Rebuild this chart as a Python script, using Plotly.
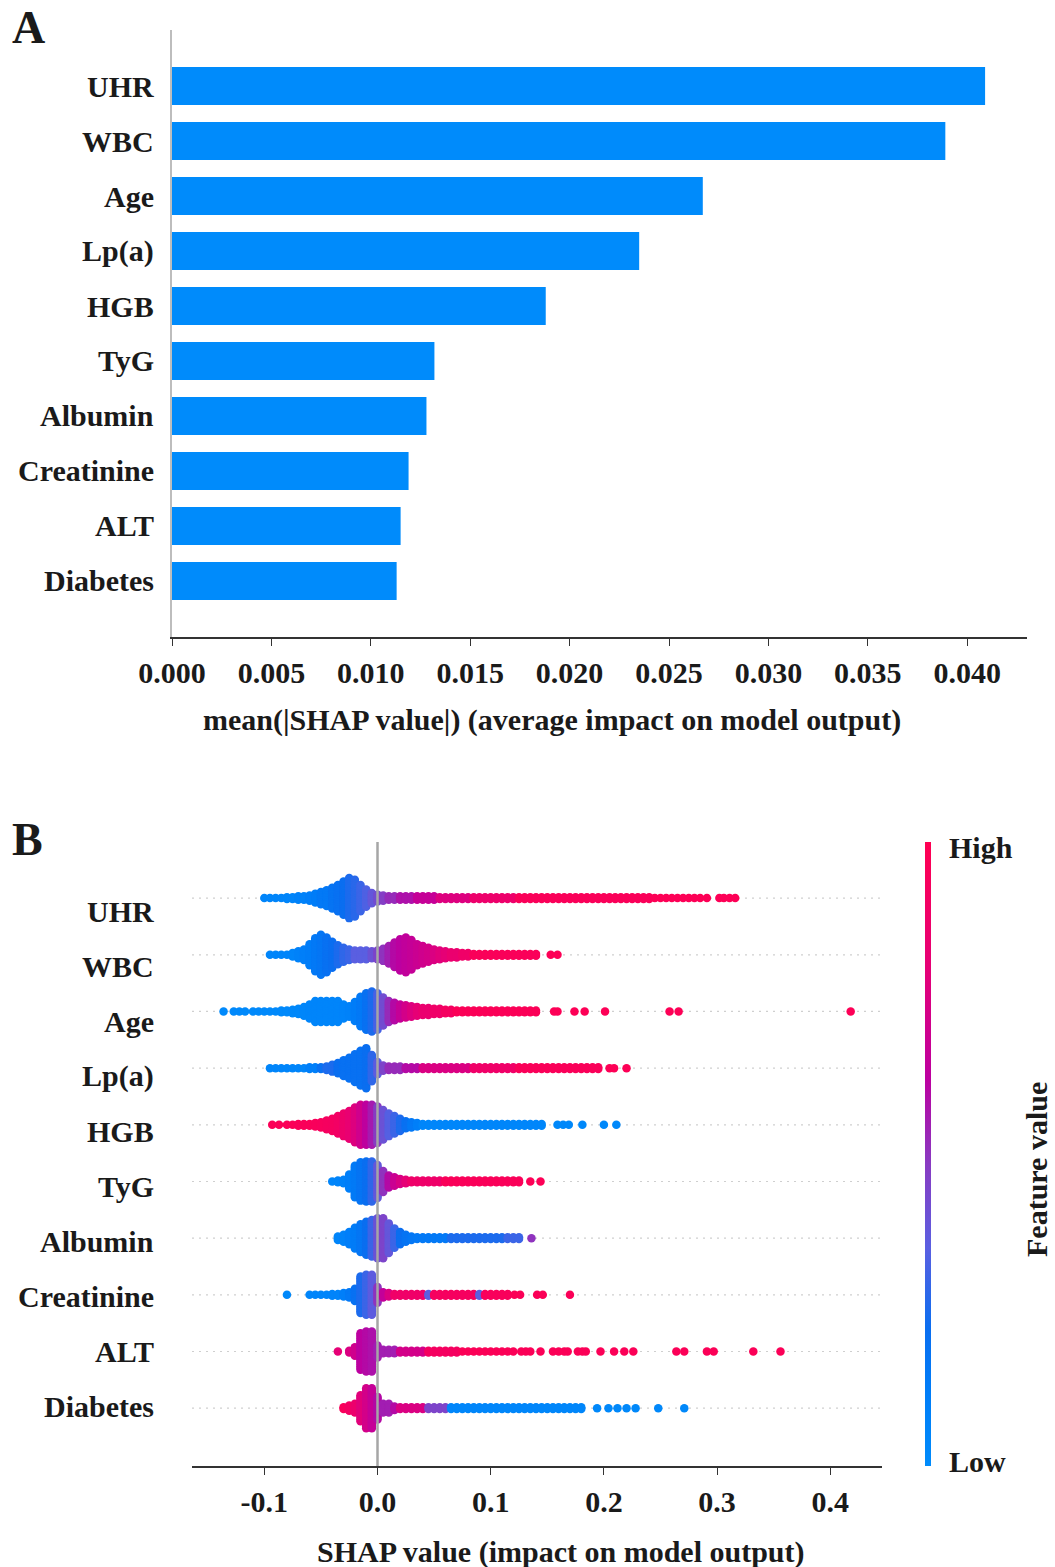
import plotly.graph_objects as go

W, H = 1055, 1567

# ---------------------------------------------------------------- data
FEATURES = ["UHR", "WBC", "Age", "Lp(a)", "HGB", "TyG",
            "Albumin", "Creatinine", "ALT", "Diabetes"]

# panel A: mean(|SHAP value|) per feature
MEAN_ABS_SHAP = [0.0409, 0.0389, 0.0267, 0.0235, 0.0188,
                 0.0132, 0.0128, 0.0119, 0.0115, 0.0113]

A_TICKS = [0.000, 0.005, 0.010, 0.015, 0.020, 0.025, 0.030, 0.035, 0.040]
B_TICKS = [-0.1, 0.0, 0.1, 0.2, 0.3, 0.4]

# panel B: binned SHAP distributions on a 0.005 grid
# each run is (first bin, last bin, points per bin, feature level 0=low..1=high)
UHR_RUNS = [
    (-0.100, -0.085, 1, 0.05), (-0.080, -0.075, 2, 0.05), (-0.070, -0.065, 3, 0.08),
    (-0.060, -0.060, 4, 0.10), (-0.055, -0.055, 6, 0.12), (-0.050, -0.050, 8, 0.15),
    (-0.045, -0.045, 10, 0.15), (-0.040, -0.040, 13, 0.18), (-0.035, -0.035, 16, 0.20),
    (-0.030, -0.030, 20, 0.22), (-0.025, -0.025, 24, 0.25), (-0.020, -0.020, 22, 0.27),
    (-0.015, -0.015, 16, 0.30), (-0.010, -0.010, 11, 0.33), (-0.005, -0.005, 7, 0.38),
    (0.000, 0.000, 5, 0.42), (0.005, 0.005, 4, 0.47), (0.010, 0.015, 3, 0.52),
    (0.020, 0.030, 3, 0.58), (0.035, 0.050, 3, 0.66), (0.055, 0.080, 2, 0.76),
    (0.085, 0.120, 2, 0.86), (0.125, 0.240, 2, 0.96), (0.245, 0.285, 1, 0.98),
]
UHR_SINGLE = [(0.291, 0.98), (0.302, 0.98), (0.306, 0.98), (0.311, 0.98), (0.316, 0.98)]

WBC_RUNS = [
    (-0.095, -0.080, 1, 0.05), (-0.075, -0.075, 3, 0.05), (-0.070, -0.070, 5, 0.08),
    (-0.065, -0.065, 7, 0.10), (-0.060, -0.060, 13, 0.12), (-0.055, -0.055, 20, 0.15),
    (-0.050, -0.050, 24, 0.17), (-0.045, -0.045, 21, 0.20), (-0.040, -0.040, 16, 0.22),
    (-0.035, -0.035, 12, 0.25), (-0.030, -0.030, 9, 0.28), (-0.025, -0.025, 7, 0.30),
    (-0.020, -0.010, 6, 0.35), (-0.005, -0.005, 5, 0.40), (0.000, 0.000, 6, 0.45),
    (0.005, 0.005, 8, 0.50), (0.010, 0.010, 11, 0.55), (0.015, 0.015, 15, 0.60),
    (0.020, 0.020, 19, 0.62), (0.025, 0.025, 21, 0.64), (0.030, 0.030, 18, 0.66),
    (0.035, 0.035, 13, 0.68), (0.040, 0.040, 11, 0.70), (0.045, 0.045, 9, 0.72),
    (0.050, 0.050, 7, 0.75), (0.055, 0.055, 6, 0.78), (0.060, 0.060, 5, 0.80),
    (0.065, 0.070, 4, 0.84), (0.075, 0.080, 3, 0.88), (0.085, 0.140, 2, 0.96),
]
WBC_SINGLE = [(0.153, 0.98), (0.159, 0.98)]

AGE_RUNS = [
    (-0.110, -0.090, 1, 0.02), (-0.085, -0.080, 2, 0.02), (-0.075, -0.075, 3, 0.03),
    (-0.070, -0.070, 4, 0.03), (-0.065, -0.065, 6, 0.04), (-0.060, -0.060, 9, 0.05),
    (-0.055, -0.035, 13, 0.05), (-0.030, -0.030, 9, 0.06), (-0.025, -0.025, 7, 0.08),
    (-0.020, -0.020, 12, 0.12), (-0.015, -0.015, 18, 0.15), (-0.010, -0.010, 22, 0.20),
    (-0.005, -0.005, 24, 0.25), (0.000, 0.000, 22, 0.32), (0.005, 0.005, 17, 0.42),
    (0.010, 0.010, 13, 0.52), (0.015, 0.015, 11, 0.60), (0.020, 0.020, 9, 0.66),
    (0.025, 0.025, 8, 0.72), (0.030, 0.030, 7, 0.76), (0.035, 0.035, 6, 0.80),
    (0.040, 0.045, 5, 0.84), (0.050, 0.055, 4, 0.88), (0.060, 0.065, 3, 0.92),
    (0.070, 0.140, 2, 0.97),
]
AGE_SINGLE = [(-0.136, 0.02), (-0.127, 0.02), (-0.122, 0.02), (-0.117, 0.02),
              (0.156, 0.98), (0.159, 0.98), (0.174, 0.98), (0.183, 0.98),
              (0.201, 0.98), (0.258, 0.98), (0.266, 0.98), (0.418, 0.98)]

LPA_RUNS = [
    (-0.095, -0.065, 1, 0.05), (-0.060, -0.055, 2, 0.10), (-0.050, -0.050, 2, 0.20),
    (-0.045, -0.045, 3, 0.25), (-0.040, -0.040, 5, 0.25), (-0.035, -0.035, 7, 0.22),
    (-0.030, -0.030, 10, 0.20), (-0.025, -0.025, 13, 0.20), (-0.020, -0.020, 17, 0.20),
    (-0.015, -0.015, 21, 0.20), (-0.010, -0.010, 24, 0.22), (-0.005, -0.005, 16, 0.28),
    (0.000, 0.000, 8, 0.36), (0.005, 0.005, 4, 0.45), (0.010, 0.020, 3, 0.52),
    (0.025, 0.035, 2, 0.60), (0.040, 0.080, 2, 0.75), (0.085, 0.120, 2, 0.88),
    (0.125, 0.195, 2, 0.96),
]
LPA_SINGLE = [(0.205, 0.98), (0.209, 0.98), (0.220, 0.98)]

HGB_RUNS = [
    (-0.080, -0.075, 1, 0.97), (-0.070, -0.060, 2, 0.96), (-0.055, -0.055, 3, 0.95),
    (-0.050, -0.050, 4, 0.94), (-0.045, -0.045, 6, 0.93), (-0.040, -0.040, 8, 0.92),
    (-0.035, -0.035, 11, 0.90), (-0.030, -0.030, 14, 0.86), (-0.025, -0.025, 17, 0.82),
    (-0.020, -0.020, 21, 0.76), (-0.015, -0.015, 24, 0.70), (-0.010, -0.010, 24, 0.63),
    (-0.005, -0.005, 24, 0.56), (0.000, 0.000, 22, 0.48), (0.005, 0.005, 18, 0.40),
    (0.010, 0.010, 14, 0.34), (0.015, 0.015, 11, 0.30), (0.020, 0.020, 8, 0.25),
    (0.025, 0.025, 5, 0.20), (0.030, 0.030, 4, 0.15), (0.035, 0.035, 3, 0.10),
    (0.040, 0.145, 2, 0.04),
]
HGB_SINGLE = [(-0.093, 0.97), (-0.087, 0.97), (0.159, 0.03), (0.164, 0.03),
              (0.169, 0.03), (0.181, 0.03), (0.200, 0.03), (0.211, 0.03)]

TYG_RUNS = [
    (-0.040, -0.040, 1, 0.05), (-0.035, -0.035, 2, 0.06), (-0.030, -0.030, 3, 0.08),
    (-0.025, -0.025, 9, 0.10), (-0.020, -0.020, 19, 0.14), (-0.015, -0.015, 23, 0.18),
    (-0.010, -0.010, 24, 0.22), (-0.005, -0.005, 24, 0.28), (0.000, 0.000, 20, 0.38),
    (0.005, 0.005, 13, 0.50), (0.010, 0.010, 8, 0.60), (0.015, 0.015, 6, 0.68),
    (0.020, 0.020, 4, 0.74), (0.025, 0.025, 3, 0.80), (0.030, 0.055, 2, 0.87),
    (0.060, 0.125, 2, 0.96),
]
TYG_SINGLE = [(0.135, 0.98), (0.144, 0.98)]

ALB_RUNS = [
    (-0.035, -0.035, 3, 0.05), (-0.030, -0.030, 5, 0.07), (-0.025, -0.025, 8, 0.10),
    (-0.020, -0.020, 13, 0.13), (-0.015, -0.015, 17, 0.17), (-0.010, -0.010, 20, 0.22),
    (-0.005, -0.005, 22, 0.30), (0.000, 0.000, 24, 0.40), (0.005, 0.005, 24, 0.45),
    (0.010, 0.010, 18, 0.38), (0.015, 0.015, 12, 0.30), (0.020, 0.020, 8, 0.22),
    (0.025, 0.025, 5, 0.18), (0.030, 0.030, 3, 0.16), (0.035, 0.060, 2, 0.15),
    (0.065, 0.110, 2, 0.25), (0.115, 0.125, 2, 0.30),
]
ALB_SINGLE = [(0.136, 0.50)]

CREA_RUNS = [
    (-0.060, -0.045, 1, 0.05), (-0.040, -0.035, 2, 0.06), (-0.030, -0.030, 3, 0.10),
    (-0.025, -0.025, 4, 0.15), (-0.020, -0.020, 8, 0.20), (-0.015, -0.015, 22, 0.25),
    (-0.010, -0.010, 24, 0.30), (-0.005, -0.005, 24, 0.36), (0.000, 0.000, 10, 0.50),
    (0.005, 0.005, 4, 0.65), (0.010, 0.010, 3, 0.75), (0.015, 0.040, 2, 0.88),
    (0.045, 0.045, 2, 0.35), (0.050, 0.085, 2, 0.93), (0.090, 0.090, 2, 0.35),
    (0.095, 0.115, 2, 0.95),
]
CREA_SINGLE = [(-0.080, 0.03), (0.121, 0.97), (0.126, 0.97), (0.141, 0.97),
               (0.146, 0.97), (0.170, 0.97)]

ALT_RUNS = [
    (-0.025, -0.025, 2, 0.75), (-0.020, -0.020, 6, 0.70), (-0.015, -0.015, 22, 0.62),
    (-0.010, -0.010, 24, 0.60), (-0.005, -0.005, 24, 0.58), (0.000, 0.000, 8, 0.55),
    (0.005, 0.015, 3, 0.55), (0.020, 0.040, 2, 0.72), (0.045, 0.070, 2, 0.92),
    (0.075, 0.120, 1, 0.97),
]
ALT_SINGLE = [(-0.035, 0.80), (0.127, 0.97), (0.131, 0.97), (0.135, 0.97),
              (0.144, 0.97), (0.155, 0.97), (0.160, 0.97), (0.165, 0.97),
              (0.168, 0.97), (0.177, 0.97), (0.181, 0.97), (0.184, 0.97),
              (0.197, 0.97), (0.209, 0.97), (0.218, 0.97), (0.226, 0.97),
              (0.264, 0.97), (0.271, 0.97), (0.291, 0.97), (0.297, 0.97),
              (0.332, 0.97), (0.356, 0.97)]

DIAB_RUNS = [
    (-0.030, -0.030, 2, 0.95), (-0.025, -0.025, 4, 0.90), (-0.020, -0.020, 6, 0.85),
    (-0.015, -0.015, 16, 0.78), (-0.010, -0.010, 24, 0.72), (-0.005, -0.005, 24, 0.66),
    (0.000, 0.000, 14, 0.60), (0.005, 0.010, 6, 0.55), (0.015, 0.015, 3, 0.60),
    (0.020, 0.040, 2, 0.75), (0.045, 0.060, 2, 0.45), (0.065, 0.180, 2, 0.04),
]
DIAB_SINGLE = [(0.194, 0.03), (0.204, 0.03), (0.212, 0.03), (0.220, 0.03),
               (0.228, 0.03), (0.248, 0.03), (0.271, 0.03)]

SWARMS = [
    (UHR_RUNS, UHR_SINGLE), (WBC_RUNS, WBC_SINGLE), (AGE_RUNS, AGE_SINGLE),
    (LPA_RUNS, LPA_SINGLE), (HGB_RUNS, HGB_SINGLE), (TYG_RUNS, TYG_SINGLE),
    (ALB_RUNS, ALB_SINGLE), (CREA_RUNS, CREA_SINGLE), (ALT_RUNS, ALT_SINGLE),
    (DIAB_RUNS, DIAB_SINGLE),
]

# ---------------------------------------------------------------- styling
SERIF = "Liberation Serif"
INK = "#1a1a1a"
BAR_BLUE = "rgb(0,139,251)"
RED_BLUE = [
    [0.00, "rgb(0,139,251)"], [0.12, "rgb(0,125,248)"], [0.22, "rgb(10,110,240)"],
    [0.35, "rgb(90,95,225)"], [0.48, "rgb(135,60,195)"], [0.62, "rgb(188,0,160)"],
    [0.80, "rgb(230,0,118)"], [1.00, "rgb(255,0,82)"],
]
BIN = 0.005
HALF = 0.353      # offset (rows) of outermost point in the densest bin
LABEL_FONT = dict(family=SERIF, size=30, color=INK, weight="bold")


def px_x(p):
    return p / W


def px_y(p):
    return 1 - p / H


def expand(runs):
    out = []
    for a, b, n, lvl in runs:
        k = int(round((b - a) / BIN))
        for i in range(k + 1):
            out.append((round(a + i * BIN, 4), n, lvl))
    return out


def swarm(runs, singles, row):
    bins = expand(runs)
    nmax = max(n for _, n, _ in bins)
    step = 2 * HALF / (nmax - 1)
    xs, ys, cs = [], [], []
    for x, n, lvl in bins:
        for k in range(n):
            xs.append(x)
            ys.append(row + (k - (n - 1) / 2) * step)
            cs.append(lvl)
    for x, lvl in singles:
        xs.append(x)
        ys.append(row)
        cs.append(lvl)
    return xs, ys, cs


fig = go.Figure()

# ---------------------------------------------------------------- panel A
rows = list(range(len(FEATURES)))
fig.add_trace(go.Bar(
    x=MEAN_ABS_SHAP, y=rows, orientation="h", width=0.69,
    marker=dict(color=BAR_BLUE, line=dict(width=0)),
    xaxis="x", yaxis="y", showlegend=False, hoverinfo="x",
))

# ---------------------------------------------------------------- panel B
for i, (runs, singles) in enumerate(SWARMS):
    xs, ys, cs = swarm(runs, singles, i)
    fig.add_trace(go.Scatter(
        x=xs, y=ys, mode="markers", xaxis="x2", yaxis="y2",
        marker=dict(size=8.5, color=cs, colorscale=RED_BLUE, cmin=0, cmax=1,
                    line=dict(width=0), showscale=(i == 0),
                    colorbar=dict(
                        x=px_x(925), xanchor="left", xpad=0,
                        y=px_y(1154), yanchor="middle", ypad=0,
                        len=624 / H, lenmode="fraction", thickness=6,
                        outlinewidth=0, showticklabels=False, ticks="",
                    )),
        showlegend=False, hoverinfo="x",
    ))

# ---------------------------------------------------------------- axes
a_left, a_right = 172, 1027
a_scale = 19880.0          # pixels per unit of mean |SHAP|
b_left, b_right = 192, 882
b_zero, b_scale = 377.5, 1132.0

axis_common = dict(
    showgrid=False, zeroline=False, showline=True, linecolor="#333333",
    linewidth=1.5, ticks="outside", ticklen=7, tickwidth=1.2, tickcolor="#333333",
    tickfont=LABEL_FONT, ticklabelstandoff=1, fixedrange=True, automargin=False,
)

fig.update_layout(
    width=W, height=H,
    margin=dict(l=0, r=0, t=0, b=0, pad=0, autoexpand=False),
    paper_bgcolor="white", plot_bgcolor="white",
    xaxis=dict(
        domain=[px_x(a_left), px_x(a_right)], anchor="y",
        range=[0, (a_right - a_left) / a_scale],
        tickvals=A_TICKS, ticktext=[f"{t:.3f}" for t in A_TICKS],
        **axis_common,
    ),
    yaxis=dict(
        domain=[px_y(637), px_y(30)], anchor="x",
        range=[10.02, -1.02], showgrid=False, zeroline=False,
        showline=True, linecolor="#bdbdbd", linewidth=1.5,
        showticklabels=False, ticks="", fixedrange=True, automargin=False,
    ),
    xaxis2=dict(
        domain=[px_x(b_left), px_x(b_right)], anchor="y2",
        range=[(b_left - b_zero) / b_scale, (b_right - b_zero) / b_scale],
        tickvals=B_TICKS, ticktext=[f"{t:.1f}" for t in B_TICKS],
        **axis_common,
    ),
    yaxis2=dict(
        domain=[px_y(1466), px_y(842)], anchor="x2",
        range=[10.02, -0.99], visible=False, fixedrange=True, automargin=False,
    ),
)

# row guides and zero line of panel B
shapes = []
for i in rows:
    shapes.append(dict(
        type="line", xref="x2 domain", yref="y2", x0=0, x1=1, y0=i, y1=i,
        line=dict(color="#cfcfcf", width=1.2, dash="2px,5px"), layer="below",
    ))
shapes.append(dict(
    type="line", xref="x2", yref="y2 domain", x0=0, x1=0, y0=0, y1=1,
    line=dict(color="#a6a6a6", width=2.5), layer="above",
))
fig.update_layout(shapes=shapes)

# ---------------------------------------------------------------- text
ann = []
for i, name in enumerate(FEATURES):
    # panel A labels beside the bars
    ann.append(dict(text=name, x=px_x(156), xanchor="right",
                    y=i, yref="y", yanchor="middle", font=LABEL_FONT))
    # panel B labels
    ann.append(dict(text=name, x=px_x(156), xanchor="right",
                    y=px_y(911 + 55.1 * i), yanchor="middle", font=LABEL_FONT))

ann += [
    dict(text="A", x=px_x(10), y=px_y(27), xanchor="left", yanchor="middle",
         font=dict(family=SERIF, size=46, color=INK, weight="bold")),
    dict(text="B", x=px_x(10), y=px_y(839), xanchor="left", yanchor="middle",
         font=dict(family=SERIF, size=46, color=INK, weight="bold")),
    dict(text="mean(|SHAP value|) (average impact on model output)",
         x=px_x(552), y=px_y(720), xanchor="center", yanchor="middle",
         font=LABEL_FONT),
    dict(text="SHAP value (impact on model output)",
         x=px_x(561), y=px_y(1552), xanchor="center", yanchor="middle",
         font=LABEL_FONT),
    dict(text="High", x=px_x(947), y=px_y(847), xanchor="left", yanchor="middle",
         font=LABEL_FONT),
    dict(text="Low", x=px_x(947), y=px_y(1461), xanchor="left", yanchor="middle",
         font=LABEL_FONT),
    dict(text="Feature value", x=px_x(1036), y=px_y(1170), xanchor="center",
         yanchor="middle", textangle=-90, font=LABEL_FONT),
]
for a in ann:
    a.setdefault("xref", "paper")
    a.setdefault("yref", "paper")
    a["showarrow"] = False
fig.update_layout(annotations=ann)

fig.write_html("out.html")
